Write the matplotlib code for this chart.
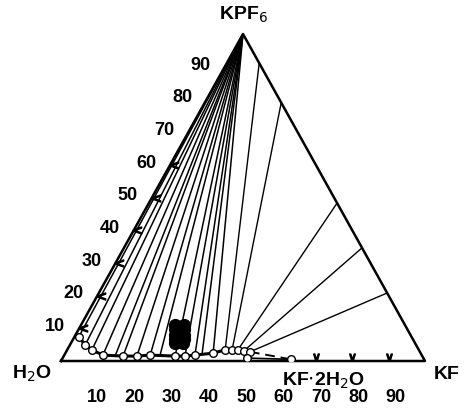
import numpy as np
import matplotlib
matplotlib.use('Agg')
import matplotlib.pyplot as plt

plt.rcParams['font.family'] = ['Liberation Sans', 'DejaVu Sans']

# Loeslichkeitskurve: Gew.-% KF, Gew.-% KPF6
kurve_kf = [1.2, 4.2, 6.8, 10.6, 16.3, 20.1, 23.6, 30.6, 33.3, 35.9, 40.6, 43.4, 45.3, 46.9, 48.7, 50.5]
kurve_kpf6 = [7.4, 4.9, 3.4, 1.8, 1.5, 1.5, 1.8, 1.5, 1.5, 1.8, 2.4, 3.4, 3.4, 3.4, 3.1, 2.8]

# Konoden vom KPF6-Eckpunkt zu den Loesungen
konode_kf = [1.2, 4.2, 6.8, 10.6, 14.1, 16.3, 20.1, 23.6, 26.4, 30.6, 33.3, 35.9, 37.7, 40.6]
konode_kpf6 = [7.4, 4.9, 3.4, 1.8, 1.5, 1.5, 1.5, 1.8, 1.5, 1.5, 1.5, 1.8, 2.1, 2.4]

# Konoden von der Seite KPF6-KF (Mischkristalle)
mk_start_kpf6 = [91.1, 79.0, 48.3, 34.6, 20.8]
mk_end_kf = [43.4, 45.3, 46.9, 48.7, 50.5]
mk_end_kpf6 = [3.4, 3.4, 3.4, 3.1, 2.8]

# Restpunkte (schwarz)
rest_kf = [25.8, 28.3, 26.5, 29.0, 27.3, 29.8, 27.9, 30.3, 28.5, 30.8, 27.7, 29.5]
rest_kpf6 = [11.0, 11.0, 9.8, 9.8, 8.0, 8.0, 6.8, 6.8, 5.5, 5.5, 9.5, 7.5]

# KF.2H2O und Punkt darunter
dihydrat_kf = [50.5, 63.0]
dihydrat_kpf6 = [2.8, 0.5]
extra_kf = [50.6, 63.0]
extra_kpf6 = [0.9, 0.5]

skala = [10, 20, 30, 40, 50, 60, 70, 80, 90]
links_striche = [10, 20, 30, 40, 50, 60]
unten_striche = [70, 80, 90]


def xy(kf, kpf6):
    kf = np.asarray(kf, dtype=float) / 100
    kpf6 = np.asarray(kpf6, dtype=float) / 100
    return kf + kpf6 / 2, kpf6


fig = plt.figure(figsize=(4.65, 4.09), dpi=100)
ax = fig.add_axes([61 / 465, 48 / 409, 364 / 465, 327 / 409])
ax.set_xlim(0, 1)
ax.set_ylim(0, 1)
ax.axis('off')

# Dreieck
ax.plot([0, 1, 0.5, 0], [0, 0, 1, 0], color='black', lw=1.8, clip_on=False, zorder=3)

# Konoden
for kf, kp in zip(konode_kf, konode_kpf6):
    x, y = xy([0, kf], [100, kp])
    ax.plot(x, y, color='black', lw=1.1, zorder=2)
for s, kf, kp in zip(mk_start_kpf6, mk_end_kf, mk_end_kpf6):
    x, y = xy([100 - s, kf], [s, kp])
    ax.plot(x, y, color='black', lw=1.0, zorder=2)

# Restpunkte
x, y = xy(rest_kf, rest_kpf6)
ax.plot(x, y, 'o', color='black', ms=8.5, zorder=4)

# Kurve
x, y = xy(kurve_kf, kurve_kpf6)
ax.plot(x, y, color='black', lw=2.2, zorder=4)
ax.plot(x, y, 'o', mfc='white', mec='black', mew=1.0, ms=5.5, zorder=5)

x, y = xy(dihydrat_kf, dihydrat_kpf6)
ax.plot(x, y, color='black', lw=1.4, ls=(0, (5, 3)), zorder=4)
x, y = xy(extra_kf, extra_kpf6)
ax.plot(x, y, color='black', lw=1.2, zorder=4)
ax.plot(x, y, 'o', mfc='white', mec='black', mew=1.0, ms=5.5, zorder=5)

# Striche
x, y = xy([0] * len(links_striche), links_striche)
ax.plot(x + 0.01, y, marker=r'$<$', ls='none', color='black', ms=6, zorder=4)
x, y = xy(unten_striche, [0] * len(unten_striche))
ax.plot(x, y + 0.012, marker=r'$\vee$', ls='none', color='black', ms=5, zorder=4)

fs = 13
for v in skala:
    x, y = xy(0, v)
    ax.text(x - 0.066, y + 0.005, str(v), ha='center', va='center', fontsize=fs, fontweight='bold')
    ax.text(1.024 * v / 100 - 0.003, -0.112, str(v), ha='center', va='center', fontsize=fs, fontweight='bold')

ax.text(0.5, 1.058, r'KPF$_6$', ha='center', va='center', fontsize=14, fontweight='bold')
ax.text(-0.08, -0.04, r'H$_2$O', ha='center', va='center', fontsize=14, fontweight='bold')
ax.text(1.06, -0.04, 'KF', ha='center', va='center', fontsize=14, fontweight='bold')
ax.text(0.722, -0.06, r'KF$\cdot$2H$_2$O', ha='center', va='center', fontsize=14, fontweight='bold')

fig.savefig('out.png', dpi=100)
